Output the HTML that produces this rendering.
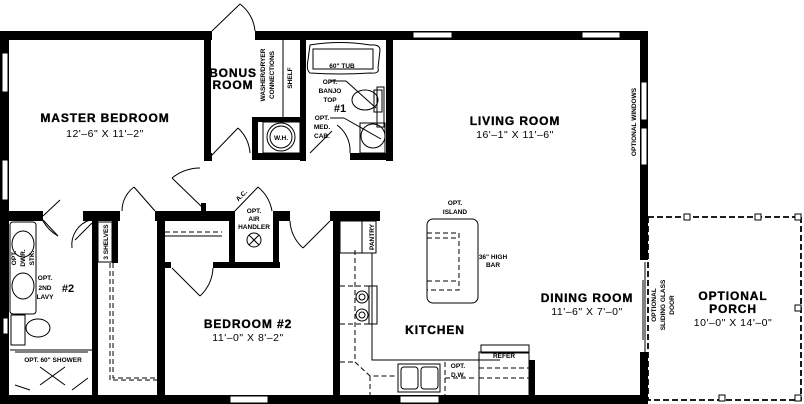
<!DOCTYPE html>
<html><head><meta charset="utf-8"><style>
html,body{margin:0;padding:0;background:#fff}
svg{display:block}
text{font-family:"Liberation Sans",sans-serif;font-weight:bold;fill:#000}
.t{font-size:12px;letter-spacing:0.9px;stroke:#000;stroke-width:0.35}
.d{font-size:10.5px;font-weight:normal;letter-spacing:0.5px}
.s{font-size:6.5px}
</style></head><body>
<svg width="804" height="404" viewBox="0 0 804 404" xmlns="http://www.w3.org/2000/svg">
<g fill="#000">
<rect x="0" y="31" width="212" height="9"/>
<rect x="255" y="31" width="393" height="9"/>
<rect x="0" y="31" width="9" height="373"/>
<rect x="0" y="395" width="648" height="9"/>
<rect x="640" y="31" width="8" height="229"/>
<rect x="640" y="352" width="8" height="52"/>
<rect x="204" y="31" width="7" height="130"/>
<rect x="204" y="153" width="8" height="8"/>
<rect x="300" y="31" width="6" height="130"/>
<rect x="386" y="31" width="7" height="130"/>
<rect x="252" y="153" width="54" height="7"/>
<rect x="350" y="153" width="43" height="7"/>
<rect x="252" y="117" width="6" height="43"/>
<rect x="252" y="117" width="48" height="5"/>
<rect x="0" y="211" width="43" height="10"/>
<rect x="83" y="211" width="37" height="10"/>
<rect x="155" y="211" width="78" height="10"/>
<rect x="273" y="211" width="17" height="10"/>
<rect x="330" y="211" width="50" height="10"/>
<rect x="92" y="211" width="6" height="185"/>
<rect x="112" y="211" width="6" height="52"/>
<rect x="157" y="211" width="8" height="185"/>
<rect x="157" y="262" width="14" height="6"/>
<rect x="213" y="262" width="67" height="6"/>
<rect x="229" y="211" width="6" height="57"/>
<rect x="273" y="211" width="6" height="57"/>
<rect x="333" y="211" width="7" height="185"/>
<rect x="529" y="360" width="6" height="36"/>
<rect x="201" y="203" width="5" height="8"/>
</g>
<g fill="#fff" stroke="#000" stroke-width="1">
<rect x="413" y="32" width="39" height="6"/>
<rect x="582" y="32" width="38" height="6"/>
<rect x="641" y="82" width="6" height="38"/>
<rect x="641" y="128" width="6" height="37"/>
<rect x="2" y="53" width="6" height="39"/>
<rect x="2" y="160" width="6" height="40"/>
<rect x="230" y="396" width="38" height="7"/>
<rect x="400" y="396" width="39" height="7"/>
<rect x="3" y="318" width="5" height="16"/>
</g>
<g fill="none" stroke="#000" stroke-width="1">
<line x1="643" y1="280" x2="643" y2="340"/><line x1="645" y1="262" x2="645" y2="352"/>
<line x1="212" y1="31" x2="240" y2="4"/><path d="M240 4 A38 38 0 0 1 255 31"/>
<line x1="211" y1="156" x2="238" y2="128"/><path d="M238 128 A38 38 0 0 1 250 153"/>
<line x1="310" y1="153" x2="332" y2="131"/><path d="M337 125 A32 32 0 0 1 350 153"/>
<line x1="43" y1="216" x2="60" y2="200"/>
<line x1="43" y1="220" x2="58" y2="236"/><path d="M43 221 A40 40 0 0 0 58 236"/>
<line x1="75" y1="240" x2="92" y2="223"/><path d="M72 248 A26 26 0 0 1 90 220"/>
<line x1="134" y1="187" x2="155" y2="211"/><path d="M134 187 A30 30 0 0 0 122 211"/>
<line x1="172" y1="178" x2="203" y2="208"/><path d="M172 178 A45 45 0 0 1 200 168"/>
<line x1="233" y1="213" x2="258" y2="187"/><path d="M258 187 A40 40 0 0 1 272 211"/>
<line x1="172" y1="268" x2="200" y2="296"/><path d="M200 296 A40 40 0 0 0 213 268"/>
<line x1="330" y1="221" x2="303" y2="248"/><path d="M303 248 A38 38 0 0 1 290 221"/>
<path d="M310 45 Q340 40 370 45 Q380 44 380 50 L378 68 Q380 74 370 73 Q340 75 310 73 Q306 70 308 60 Z"/>
<rect x="313" y="49" width="60" height="20"/>
<ellipse cx="365" cy="100" rx="13" ry="10"/><rect x="374" y="90" width="8" height="22"/><rect x="377" y="87" width="7" height="40"/>
<ellipse cx="373" cy="136" rx="12" ry="12"/><rect x="360" y="123" width="25" height="30"/>
<line x1="330" y1="81" x2="346" y2="81"/><line x1="346" y1="81" x2="376" y2="108"/>
<line x1="330" y1="118" x2="344" y2="118"/><line x1="344" y1="118" x2="381" y2="139"/>
<line x1="283" y1="40" x2="283" y2="117"/>
<rect x="263" y="122" width="37" height="31"/>
<circle cx="281" cy="137" r="14"/><circle cx="281" cy="137" r="11"/>
<rect x="10" y="222" width="26" height="92" rx="3"/>
<ellipse cx="23" cy="244" rx="11" ry="13"/><ellipse cx="23" cy="286" rx="11" ry="13"/>
<rect x="11" y="315" width="14" height="30"/><ellipse cx="38" cy="328" rx="12" ry="9"/>
<line x1="10" y1="350" x2="92" y2="350"/><line x1="15" y1="352" x2="88" y2="352"/>
<line x1="40" y1="367" x2="65" y2="385"/><line x1="40" y1="385" x2="65" y2="367"/>
<line x1="15" y1="385" x2="30" y2="390"/><line x1="88" y1="378" x2="72" y2="390"/>
<rect x="98" y="222" width="14" height="40"/>
<circle cx="254" cy="240" r="7"/><line x1="249" y1="235" x2="259" y2="245"/><line x1="259" y1="235" x2="249" y2="245"/>
<rect x="340" y="221" width="36" height="32"/><line x1="362" y1="221" x2="362" y2="253"/>
<path d="M340 253 L372 253 L372 360 L500 360"/>
<rect x="369" y="286" width="8" height="38"/>
<circle cx="362" cy="297" r="6"/><circle cx="362" cy="297" r="3"/>
<circle cx="362" cy="315" r="6"/><circle cx="362" cy="315" r="3"/>
<rect x="398" y="364" width="42" height="28"/>
<rect x="401" y="367" width="17" height="22" rx="3"/><rect x="421" y="367" width="17" height="22" rx="3"/>
<rect x="481" y="345" width="48" height="8"/>
<rect x="479" y="352" width="50" height="44"/>
<rect x="427" y="219" width="51" height="84" rx="6"/>
</g>
<g fill="none" stroke="#000" stroke-width="1" stroke-dasharray="5,3">
<rect x="427" y="233" width="32" height="57"/>
<line x1="427" y1="238" x2="459" y2="238"/><line x1="427" y1="281" x2="459" y2="281"/>
<line x1="355" y1="250" x2="355" y2="360"/>
<line x1="340" y1="286" x2="369" y2="286"/><line x1="340" y1="324" x2="369" y2="324"/>
<line x1="340" y1="362" x2="355" y2="362"/><path d="M355 362 L370 376 L395 376"/>
<line x1="370" y1="376" x2="370" y2="396"/>
<line x1="445" y1="362" x2="445" y2="396"/><line x1="445" y1="378" x2="475" y2="378"/>
<line x1="479" y1="368" x2="529" y2="368"/><line x1="479" y1="378" x2="529" y2="378"/>
<path d="M110 263 L110 380 L157 380"/>
<path d="M113 263 L113 378 L157 378"/>
<path d="M165 232 L222 232"/>
</g>
<rect x="648" y="217" width="153" height="183" fill="none" stroke="#000" stroke-width="1.8" stroke-dasharray="6,3"/>
<line x1="165" y1="236" x2="222" y2="236" stroke="#000"/>
<g fill="#fff" stroke="#000">
<rect x="684" y="214" width="6" height="6"/><rect x="755" y="214" width="6" height="6"/><rect x="795" y="214" width="6" height="6"/>
<rect x="795" y="305" width="6" height="6"/><rect x="795" y="395" width="6" height="6"/><rect x="719" y="395" width="6" height="6"/>
</g>
<g text-anchor="middle">
<text class="t" x="105" y="122">MASTER BEDROOM</text>
<text class="d" x="105" y="137">12'–6"  X  11'–2"</text>
<text class="t" x="233" y="77">BONUS</text><text class="t" x="233" y="89">ROOM</text>
<text class="t" x="515" y="125">LIVING ROOM</text>
<text class="d" x="515" y="138">16'–1"  X  11'–6"</text>
<text class="t" x="248" y="328">BEDROOM #2</text>
<text class="d" x="248" y="341">11'–0"  X  8'–2"</text>
<text class="t" x="435" y="334">KITCHEN</text>
<text class="t" x="587" y="302">DINING ROOM</text>
<text class="d" x="587" y="315">11'–6"  X  7'–0"</text>
<text class="t" x="733" y="300">OPTIONAL</text><text class="t" x="733" y="313">PORCH</text>
<text class="d" x="733" y="326">10'–0"  X  14'–0"</text>
<text class="s" x="342" y="68">60" TUB</text>
<text class="s" x="330" y="84">OPT.</text><text class="s" x="330" y="93">BANJO</text><text class="s" x="330" y="102">TOP</text>
<text style="font-size:11px" x="340" y="112">#1</text>
<text class="s" x="322" y="120">OPT.</text><text class="s" x="322" y="129">MED.</text><text class="s" x="322" y="138">CAB.</text>
<text class="s" x="281" y="140">W.H.</text>
<text class="s" x="254" y="213">OPT.</text><text class="s" x="254" y="221">AIR</text><text class="s" x="254" y="229">HANDLER</text>
<text class="s" x="45" y="280">OPT.</text><text class="s" x="45" y="290">2ND</text><text class="s" x="45" y="299">LAVY</text>
<text style="font-size:11px" x="68" y="292">#2</text>
<text class="s" x="53" y="362">OPT. 60" SHOWER</text>
<text class="s" x="455" y="205">OPT.</text><text class="s" x="455" y="214">ISLAND</text>
<text class="s" x="493" y="259">36" HIGH</text><text class="s" x="493" y="267">BAR</text>
<text class="s" x="458" y="368">OPT.</text><text class="s" x="458" y="377">D.W.</text>
<text class="s" x="504" y="358">REFER</text>
</g>
<g text-anchor="middle">
<text class="s" transform="translate(265,75) rotate(-90)">WASHER/DRYER</text>
<text class="s" transform="translate(274,75) rotate(-90)">CONNECTIONS</text>
<text class="s" transform="translate(292,78) rotate(-90)">SHELF</text>
<text class="s" transform="translate(636,122) rotate(-90)">OPTIONAL WINDOWS</text>
<text class="s" transform="translate(108,242) rotate(-90)">3 SHELVES</text>
<text class="s" transform="translate(374,237) rotate(-90)">PANTRY</text>
<text class="s" transform="translate(16,258) rotate(-90)">OPT.</text>
<text class="s" transform="translate(25,258) rotate(-90)">DWR.</text>
<text class="s" transform="translate(34,258) rotate(-90)">STK.</text>
<text class="s" transform="translate(656,305) rotate(-90)">OPTIONAL</text>
<text class="s" transform="translate(665,305) rotate(-90)">SLIDING GLASS</text>
<text class="s" transform="translate(674,305) rotate(-90)">DOOR</text>
<text class="s" transform="translate(243,197) rotate(-45)">A.C.</text>
</g>
</svg>
</body></html>
